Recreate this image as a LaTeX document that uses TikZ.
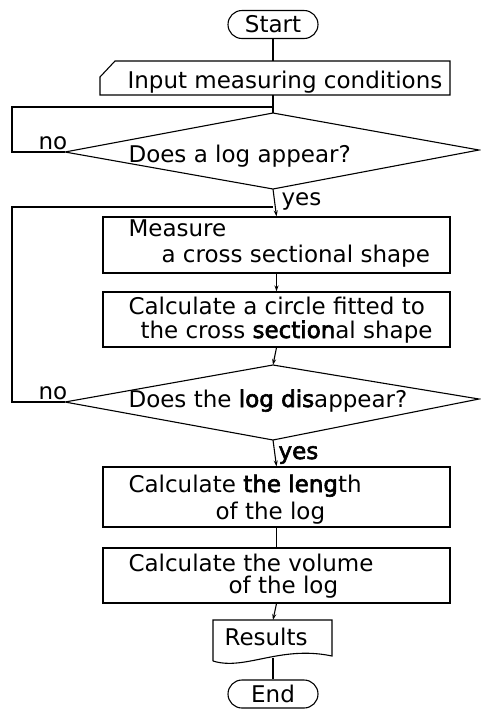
\documentclass[tikz,border=0pt]{standalone}
\usepackage{fontspec}
\setmainfont{DejaVu Sans}[BoldFont=DejaVu Sans, BoldFeatures={FakeBold=2.5}]
\usetikzlibrary{arrows.meta}
\begin{document}
\begin{tikzpicture}[x=1pt,y=-1pt,line width=1.1pt,
  txt/.style={font=\fontsize{23}{26}\selectfont, inner sep=0pt, anchor=base west},
  term/.style={draw, rounded corners=14pt, minimum width=90pt, minimum height=28pt, inner sep=0pt, font=\fontsize{23}{26}\selectfont},
  procbox/.style={draw, minimum width=347pt, minimum height=#1, inner sep=0pt},
  flow/.style={-{Stealth[length=6pt,width=4pt]}},
]
\useasboundingbox[fill=white] (0,0) rectangle (481,710);

% Start
\node[term] (start) at (273,24.5) {Start};

% Input (manual input shape)
\coordinate (inT) at (273,61);
\coordinate (inB) at (273,95);
\draw (100,77) -- (115,61) -- (450,61) -- (450,95) -- (100,95) -- cycle;
\node[txt] (intxt) at (127,88) {Input measuring conditions};

% Decision 1
\coordinate (d1t) at (273,113);
\coordinate (d1r) at (479,150);
\coordinate (d1b) at (273,189);
\coordinate (d1l) at (65,152);
\draw (d1t) -- (d1r) -- (d1b) -- (d1l) -- cycle;
\node[txt] (d1txt) at (128,162) {Does a log appear?};

% Process boxes
\node[procbox=56pt] (meas) at (276.5,245) {};
\node[txt] (meas1) at (128,236) {Measure};
\node[txt] (meas2) at (161,262) {a cross sectional shape};

\node[procbox=55pt] (circ) at (276.5,319.5) {};
\node[txt] (circ1) at (128,314) {Calculate a circle fitted to};
\node[txt] (circ2) at (140,338) {the cross \textbf{section}al shape};

% Decision 2
\coordinate (d2t) at (273,365);
\coordinate (d2r) at (479,399);
\coordinate (d2b) at (273,440);
\coordinate (d2l) at (65,402);
\draw (d2t) -- (d2r) -- (d2b) -- (d2l) -- cycle;
\node[txt] (d2txt) at (128,407) {Does the \textbf{log dis}appear?};

\node[procbox=60pt] (len) at (276.5,497) {};
\node[txt] (len1) at (128,492) {Calculate \textbf{the leng}th};
\node[txt] (len2) at (215,519) {of the log};

\node[procbox=55pt] (vol) at (276.5,575.5) {};
\node[txt] (vol1) at (128,571) {Calculate the volume};
\node[txt] (vol2) at (228,593) {of the log};

% Results (document shape)
\coordinate (resT) at (273,620);
\coordinate (resB) at (273,658);
\draw (213,661) -- (213,620) -- (332,620) -- (332,656)
      .. controls (280,645) and (245,671) .. (213,661);
\node[txt] (restxt) at (224,645) {Results};

% End
\node[term] (end) at (273,694) {End};

% Connectors
\draw (start.south) -- (inT);
\draw (inB) -- (d1t);
\draw[flow] (d1b) -- (meas.north);
\draw[flow] (meas.south) -- (circ.north);
\draw[flow] (circ.south) -- (d2t);
\draw[flow] (d2b) -- (len.north);
\draw (len.south) -- (vol.north);
\draw[flow] (vol.south) -- (resT);
\draw (resB) -- (end.north);

% Loops
\coordinate (l1a) at (12,152);
\coordinate (l1b) at (12,107);
\coordinate (l1c) at (273,107);
\draw (d1l) -- (l1a) -- (l1b) -- (l1c);
\coordinate (l2a) at (12,402);
\coordinate (l2b) at (12,207);
\coordinate (l2c) at (273,207);
\draw (d2l) -- (l2a) -- (l2b) -- (l2c);

% Labels
\node[txt] (no1) at (38,149) {no};
\node[txt] (yes1) at (281,205) {yes};
\node[txt] (no2) at (38,399) {no};
\node[txt] (yes2) at (278,459) {\textbf{yes}};
\end{tikzpicture}
\end{document}
